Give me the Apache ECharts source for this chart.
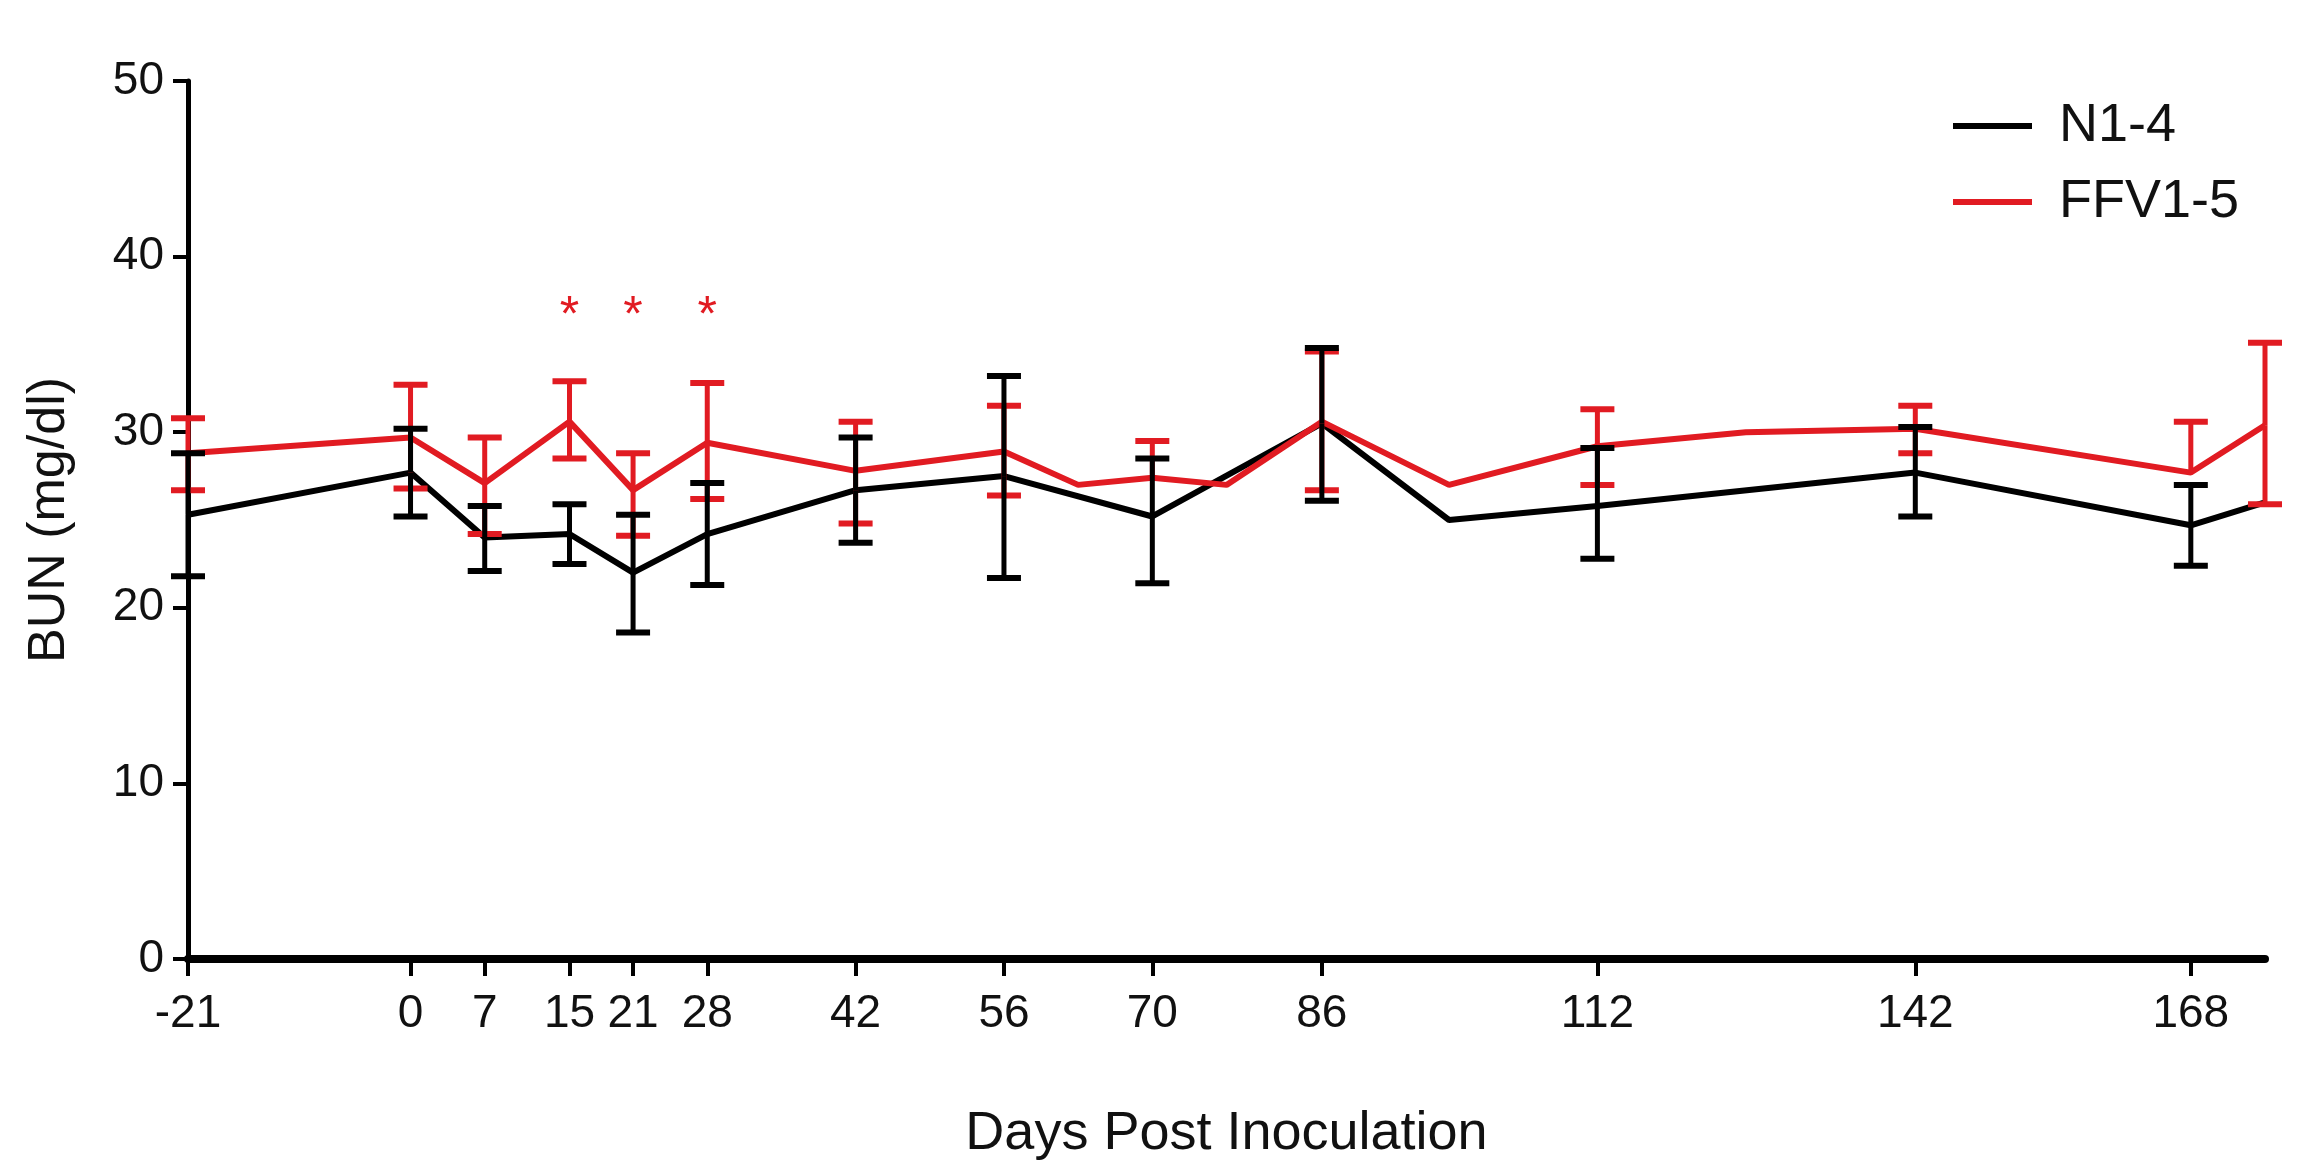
<!DOCTYPE html>
<html>
<head>
<meta charset="utf-8">
<script src="https://cdn.jsdelivr.net/npm/echarts@6/dist/echarts.min.js"></script>
<style>
html, body { margin: 0; padding: 0; background: #fff; }
#chart_bun { width: 2304px; height: 1174px; }
</style>
</head>
<body>
<div id="chart_bun"></div>
<script>
/**
 * BUN over time, N1-4 vs FFV1-5
 */
var dayTicks = [-21, 0, 7, 15, 21, 28, 42, 56, 70, 86, 112, 142, 168];

var n14Days = [-21, 0, 7, 15, 21, 28, 42, 56, 70, 86, 98, 112, 142, 168, 175];
var n14Mean = [25.3, 27.7, 24.0, 24.2, 22.0, 24.2, 26.7, 27.5, 25.2, 30.5, 25.0, 25.8, 27.7, 24.7, 26.0];
var n14Low  = [21.8, 25.2, 22.1, 22.5, 18.6, 21.3, 23.7, 21.7, 21.4, 26.1, null, 22.8, 25.2, 22.4, null];
var n14High = [28.8, 30.2, 25.8, 25.9, 25.3, 27.1, 29.7, 33.2, 28.5, 34.8, null, 29.1, 30.3, 27.0, null];

var ffvDays = [-21, 0, 7, 15, 21, 28, 42, 56, 63, 70, 77, 86, 98, 112, 126, 142, 168, 175];
var ffvMean = [28.8, 29.7, 27.1, 30.6, 26.7, 29.4, 27.8, 28.9, 27.0, 27.4, 27.0, 30.6, 27.0, 29.2, 30.0, 30.2, 27.7, 30.4];
var ffvLow  = [26.7, 26.8, 24.2, 28.5, 24.1, 26.2, 24.8, 26.4, null, null, null, 26.7, null, 27.0, null, 28.8, null, 25.9];
var ffvHigh = [30.8, 32.7, 29.7, 32.9, 28.8, 32.8, 30.6, 31.5, null, 29.5, null, 34.6, null, 31.3, null, 31.5, 30.6, 35.1];

var starDays = [15, 21, 28];
var starLevel = 37.2;

var fontName = 'Liberation Sans, Arial, sans-serif';
var tickFont = 'Liberation Sans Narrow, Arial Narrow, Liberation Sans, sans-serif';
var redColor = '#e11b22';
var blackColor = '#000000';

function zipPoints(xs, ys) {
    return xs.map(function (x, i) { return [x, ys[i]]; });
}

function errorBars(name, xs, means, lows, highs, color, z) {
    return {
        type: 'custom',
        name: name,
        z: z,
        silent: true,
        data: zipPoints(xs, means),
        renderItem: function (params, api) {
            var i = params.dataIndex;
            var x = xs[i];
            var kids = [];
            var capHalf = 17;
            [lows[i], highs[i]].forEach(function (v) {
                if (v === null) return;
                var p0 = api.coord([x, means[i]]);
                var p1 = api.coord([x, v]);
                kids.push({ type: 'line', shape: { x1: p0[0], y1: p0[1], x2: p1[0], y2: p1[1] }, style: { stroke: color, lineWidth: 5 } });
                kids.push({ type: 'line', shape: { x1: p1[0] - capHalf, y1: p1[1], x2: p1[0] + capHalf, y2: p1[1] }, style: { stroke: color, lineWidth: 6 } });
            });
            return { type: 'group', children: kids };
        }
    };
}

var chart_bun = echarts.init(document.getElementById('chart_bun'));

var chart_bun_option = {
    backgroundColor: '#ffffff',
    animation: false,
    textStyle: { fontFamily: fontName },
    grid: { left: 188, right: 39, top: 81, bottom: 215 },
    legend: {
        orient: 'vertical',
        left: 1948,
        top: 94,
        itemWidth: 79,
        itemHeight: 6,
        itemGap: 22,
        icon: 'rect',
        data: ['N1-4', 'FFV1-5'],
        textStyle: { fontSize: 54, color: '#111', fontFamily: fontName, padding: [0, 0, 0, 22], lineHeight: 54 }
    },
    xAxis: {
        type: 'value',
        min: -21,
        max: 175,
        splitLine: { show: false },
        name: 'Days Post Inoculation',
        nameLocation: 'middle',
        nameGap: 148,
        nameTextStyle: { fontSize: 54, color: '#111', fontFamily: fontName },
        axisLine: { show: true, onZero: false, lineStyle: { color: '#000', width: 8 } },
        axisTick: { show: true, length: 17, customValues: dayTicks, lineStyle: { color: '#000', width: 4 } },
        axisLabel: { customValues: dayTicks, margin: 32, fontSize: 46, color: '#111', fontFamily: tickFont }
    },
    yAxis: {
        type: 'value',
        min: 0,
        max: 50,
        interval: 10,
        splitLine: { show: false },
        name: 'BUN (mg/dl)',
        nameLocation: 'middle',
        nameGap: 112,
        nameTextStyle: { fontSize: 52, color: '#111', fontFamily: fontName },
        axisLine: { show: true, onZero: false, lineStyle: { color: '#000', width: 5 } },
        axisTick: { show: true, length: 15, lineStyle: { color: '#000', width: 4 } },
        axisLabel: { margin: 24, fontSize: 46, color: '#111', fontFamily: tickFont }
    },
    series: [
        {
            name: 'N1-4',
            type: 'line',
            z: 2,
            showSymbol: false,
            symbol: 'none',
            color: blackColor,
            lineStyle: { color: blackColor, width: 6 },
            data: zipPoints(n14Days, n14Mean)
        },
        {
            name: 'FFV1-5',
            type: 'line',
            z: 3,
            showSymbol: false,
            symbol: 'none',
            color: redColor,
            lineStyle: { color: redColor, width: 6 },
            data: zipPoints(ffvDays, ffvMean)
        },
        errorBars('ffvErr', ffvDays, ffvMean, ffvLow, ffvHigh, redColor, 4),
        errorBars('n14Err', n14Days, n14Mean, n14Low, n14High, blackColor, 5),
        {
            type: 'custom',
            name: 'stars',
            z: 6,
            silent: true,
            data: starDays.map(function (d) { return [d, starLevel]; }),
            renderItem: function (params, api) {
                var p = api.coord([api.value(0), api.value(1)]);
                return {
                    type: 'text',
                    x: p[0],
                    y: p[1] + 11,
                    style: { text: '*', fill: redColor, fontSize: 50, fontFamily: fontName, align: 'center', verticalAlign: 'middle' }
                };
            }
        }
    ]
};
chart_bun.setOption(chart_bun_option);
</script>
</body>
</html>
